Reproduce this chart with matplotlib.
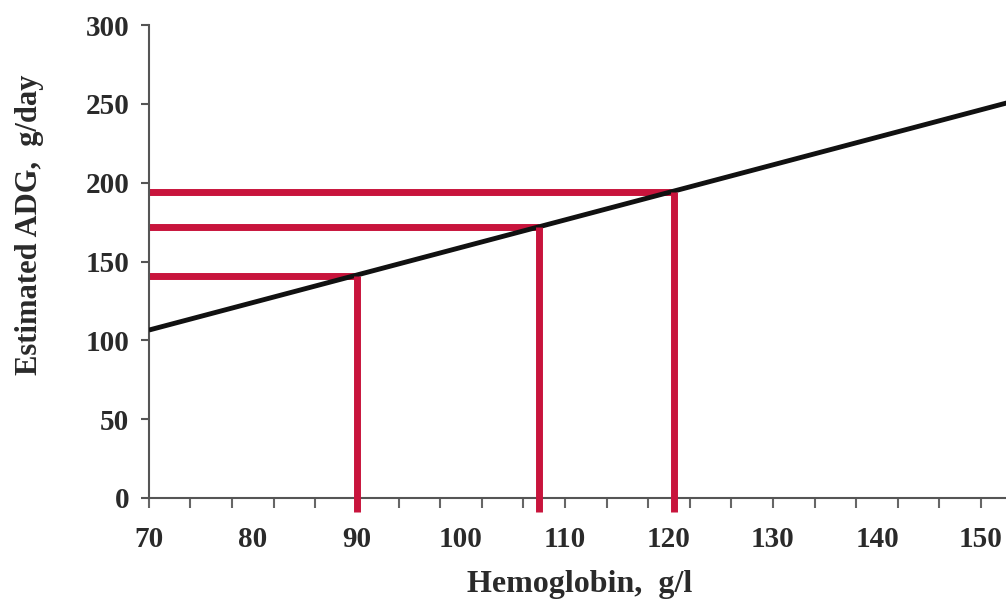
import matplotlib
matplotlib.use("Agg")
import matplotlib.pyplot as plt
import numpy as np

# Data
line_x = [70, 155]
line_y = [106.5, 255.0]
hb_values = [90, 107.5, 120.5]
adg_values = [141, 172, 194]
x_tick_labels = [70, 80, 90, 100, 110, 120, 130, 140, 150]
y_ticks = [0, 50, 100, 150, 200, 250, 300]

plt.rcParams['font.family'] = ['Liberation Serif', 'DejaVu Serif']
plt.rcParams['font.weight'] = 'bold'

fig = plt.figure(figsize=(10.06, 6.11), dpi=100)
ax = fig.add_axes([0.148, 0.185, 0.852, 0.774])

red = '#C8143C'
ax.plot(line_x, line_y, color='#111111', lw=3.5, solid_capstyle='butt', zorder=3)
for hx, hy in zip(hb_values, adg_values):
    ax.plot([70, hx], [hy, hy], color=red, lw=5, solid_capstyle='butt', zorder=2)
    ax.plot([hx, hx], [-9, hy], color=red, lw=5, solid_capstyle='butt', zorder=4, clip_on=False)

ax.set_xlim(70, 152.4)
ax.set_ylim(0, 300)

ax.spines['top'].set_visible(False)
ax.spines['right'].set_visible(False)
for s in ['left', 'bottom']:
    ax.spines[s].set_color('#555555')
    ax.spines[s].set_linewidth(1.5)

ax.set_yticks(y_ticks)
ax.set_yticklabels([str(v) for v in y_ticks])
ax.tick_params(axis='y', direction='out', length=6, width=1.5, color='#555555',
               labelsize=21, labelcolor='#2a2a2a', pad=8)

ax.xaxis.remove_overlapping_locs = False
ax.set_xticks(np.arange(70, 153, 4))
ax.set_xticklabels([])
ax.tick_params(axis='x', which='major', direction='out', length=7, width=1.5, color='#666666')
ax.set_xticks(x_tick_labels, minor=True)
ax.set_xticklabels([str(v) for v in x_tick_labels], minor=True)
ax.tick_params(axis='x', which='minor', length=0, labelsize=21, labelcolor='#2a2a2a', pad=20)

ax.set_xlabel('Hemoglobin,  g/l', fontsize=23, fontweight='bold', color='#2a2a2a', va='center')
ax.xaxis.set_label_coords(0.503, -0.184)
ax.set_ylabel('Estimated ADG,  g/day', fontsize=22, fontweight='bold', color='#2a2a2a', va='center')
ax.yaxis.set_label_coords(-0.139, 0.577)

fig.savefig('out.png', dpi=100)
